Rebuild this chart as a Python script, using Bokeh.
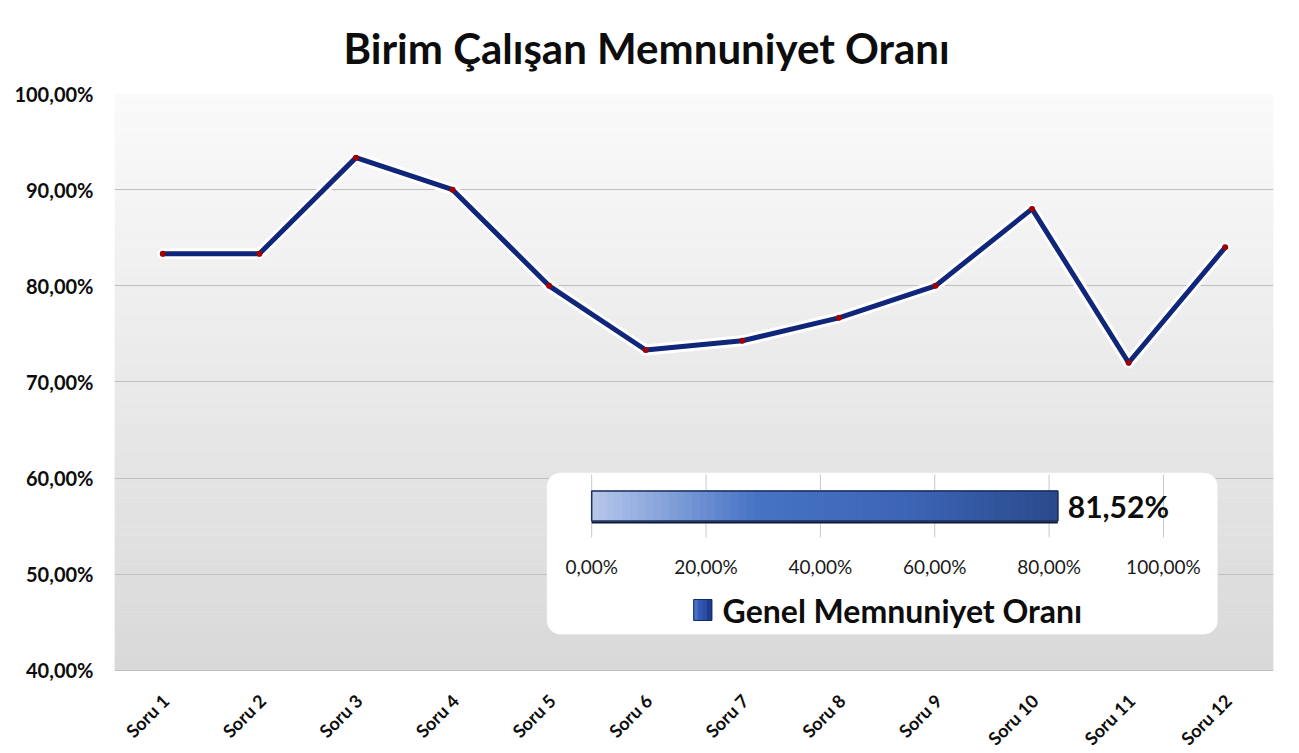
import math
import numpy as np
from bokeh.plotting import figure
from bokeh.models import (Range1d, FixedTicker, BoxAnnotation, Title, ColumnDataSource)
from bokeh.core.properties import value
from bokeh.embed import file_html
from bokeh.resources import INLINE

# ---------------- data ----------------
categories = ["Soru 1", "Soru 2", "Soru 3", "Soru 4", "Soru 5", "Soru 6",
              "Soru 7", "Soru 8", "Soru 9", "Soru 10", "Soru 11", "Soru 12"]
satisfaction = [83.33, 83.33, 93.33, 90.00, 80.00, 73.33,
                74.29, 76.67, 80.00, 88.00, 72.00, 84.00]
y_ticks = [40, 50, 60, 70, 80, 90, 100]
y_tick_labels = ["40,00%", "50,00%", "60,00%", "70,00%", "80,00%", "90,00%", "100,00%"]
overall_label = "Genel Memnuniyet Oranı"
overall_value = 81.52
overall_text = "81,52%"
inset_ticks = [0, 20, 40, 60, 80, 100]
inset_tick_labels = ["0,00%", "20,00%", "40,00%", "60,00%", "80,00%", "100,00%"]
title_text = "Birim Çalışan Memnuniyet Oranı"

FONT = "Lato"
Y_MIN, Y_MAX = 40, 100

x_pos = list(range(1, len(categories) + 1))

# y range extends below 40 so the slanted category labels sit inside the frame
p = figure(width=1291, height=753, output_backend="svg", toolbar_location=None,
           x_range=Range1d(0.5, len(categories) + 0.5), y_range=Range1d(31.369, Y_MAX),
           min_border_left=114, min_border_right=18, min_border_top=23, min_border_bottom=0)
p.background_fill_color = "white"
p.border_fill_color = "white"
p.outline_line_color = None

# title
p.add_layout(Title(text=title_text, align="left", offset=229, standoff=41,
                   text_font=FONT, text_font_style="bold", text_font_size="42px",
                   text_color="#0d0d0d"), "above")

# background gradient of the plot area (40% .. 100%)
n_strips = 60
edges = np.linspace(Y_MIN, Y_MAX, n_strips + 1)
top_c = np.array([251, 251, 251])
bot_c = np.array([217, 217, 217])
for i in range(n_strips):
    t = (edges[i] + edges[i + 1]) / 2
    f = (t - Y_MIN) / (Y_MAX - Y_MIN)
    c = (bot_c + (top_c - bot_c) * f).astype(int)
    col = "#%02x%02x%02x" % tuple(c)
    p.add_layout(BoxAnnotation(bottom=edges[i], top=edges[i + 1], fill_color=col,
                               fill_alpha=1.0, line_color=col, line_width=1, level="image"))

# axes
p.yaxis.ticker = FixedTicker(ticks=y_ticks)
p.yaxis.major_label_overrides = {t: l for t, l in zip(y_ticks, y_tick_labels)}
p.yaxis.axis_line_color = None
p.yaxis.major_tick_line_color = None
p.yaxis.minor_tick_line_color = None
p.yaxis.major_tick_out = 0
p.yaxis.major_tick_in = 0
p.yaxis.major_label_standoff = 21
p.yaxis.major_label_text_font = FONT
p.yaxis.major_label_text_font_style = "bold"
p.yaxis.major_label_text_font_size = "20px"
p.yaxis.major_label_text_color = "#0d0d0d"

p.xaxis.visible = False
p.xgrid.grid_line_color = None
p.ygrid.grid_line_color = "#bfbfbf"
p.ygrid.grid_line_width = 1

# category labels (slanted), anchored at each category below the 40% baseline
p.text(x=x_pos, y=[Y_MIN] * len(x_pos), text=categories, angle=math.pi / 4,
       x_offset=3, y_offset=27, text_align="right", text_baseline="middle",
       text_font=value(FONT), text_font_style="bold", text_font_size="18px",
       text_color="#0d0d0d")

# inset ranges (its own scale for the overall bar)
p.extra_x_ranges["inset"] = Range1d(-83.46, 119.25)
p.extra_y_ranges["inset"] = Range1d(-8.25, 13.75)

# inset white rounded box
p.add_layout(BoxAnnotation(left=-7.87, right=109.5, bottom=-4.283, top=1.117,
                           x_range_name="inset", y_range_name="inset",
                           fill_color="white", fill_alpha=1.0, line_color="#d6d6d6",
                           line_width=1, border_radius=14, level="underlay"))

# main line
src = ColumnDataSource(dict(x=x_pos, y=satisfaction, cat=categories))
p.line("x", "y", source=src, line_width=11, line_color="white", line_join="round", line_cap="round")
p.line("x", "y", source=src, line_width=5, line_color="#10267a", line_join="round", line_cap="round")
p.scatter("x", "y", source=src, size=6, fill_color="#a00000", line_color=None)

# inset grid lines
p.segment(x0=inset_ticks, x1=inset_ticks, y0=[1.05] * len(inset_ticks), y1=[-1.05] * len(inset_ticks),
          x_range_name="inset", y_range_name="inset", line_color="#c8c8c8", line_width=1)

# inset bar with gradient
nb = 60
bedges = np.linspace(0, overall_value, nb + 1)
stops = [(0.0, (184, 201, 234)), (0.35, (72, 116, 198)), (0.7, (60, 100, 180)), (1.0, (42, 74, 140))]
def grad(f):
    for (f0, c0), (f1, c1) in zip(stops[:-1], stops[1:]):
        if f <= f1:
            t = (f - f0) / (f1 - f0)
            return "#%02x%02x%02x" % tuple(int(a + (b - a) * t) for a, b in zip(c0, c1))
    return "#%02x%02x%02x" % stops[-1][1]
cols = [grad((bedges[i] + bedges[i + 1]) / 2 / overall_value) for i in range(nb)]
p.quad(left=bedges[:-1], right=bedges[1:], bottom=-0.5, top=0.5, fill_color=cols,
       line_color=cols, line_width=1.2, x_range_name="inset", y_range_name="inset")
p.quad(left=[0], right=[overall_value], bottom=-0.5, top=0.5, fill_color=None,
       line_color="#1c2f5e", line_width=1.5, x_range_name="inset", y_range_name="inset")
p.segment(x0=[0], x1=[overall_value], y0=[-0.55], y1=[-0.55], line_color="#0c1a3a",
          line_width=2, x_range_name="inset", y_range_name="inset")

p.text(x=[overall_value], y=[0], text=[overall_text], x_offset=10, text_align="left",
       text_baseline="middle", text_font=value(FONT), text_font_style="bold",
       text_font_size="30px", text_color="#0d0d0d", x_range_name="inset", y_range_name="inset")

p.text(x=inset_ticks, y=[-2.02] * len(inset_ticks), text=inset_tick_labels, text_align="center",
       text_baseline="middle", text_font=value(FONT), text_font_size="19px",
       text_color="#1a1a1a", x_range_name="inset", y_range_name="inset")

# inset legend
lsq = np.linspace(17.85, 21.0, 5)
lcols = ["#4a70c4", "#2f58b0", "#2a50a6", "#1f3d8c"]
p.quad(left=lsq[:-1], right=lsq[1:], bottom=-3.817, top=-3.117, fill_color=lcols,
       line_color=lcols, line_width=1, x_range_name="inset", y_range_name="inset")
p.quad(left=[17.85], right=[21.0], bottom=-3.817, top=-3.117, fill_color=None,
       line_color="#142a66", line_width=1, x_range_name="inset", y_range_name="inset")
p.text(x=[22.9], y=[-3.48], text=[overall_label], text_align="left", text_baseline="middle",
       text_font=value(FONT), text_font_style="bold", text_font_size="32px",
       text_color="#0d0d0d", x_range_name="inset", y_range_name="inset")

open("out.html", "w").write(file_html(p, INLINE))
